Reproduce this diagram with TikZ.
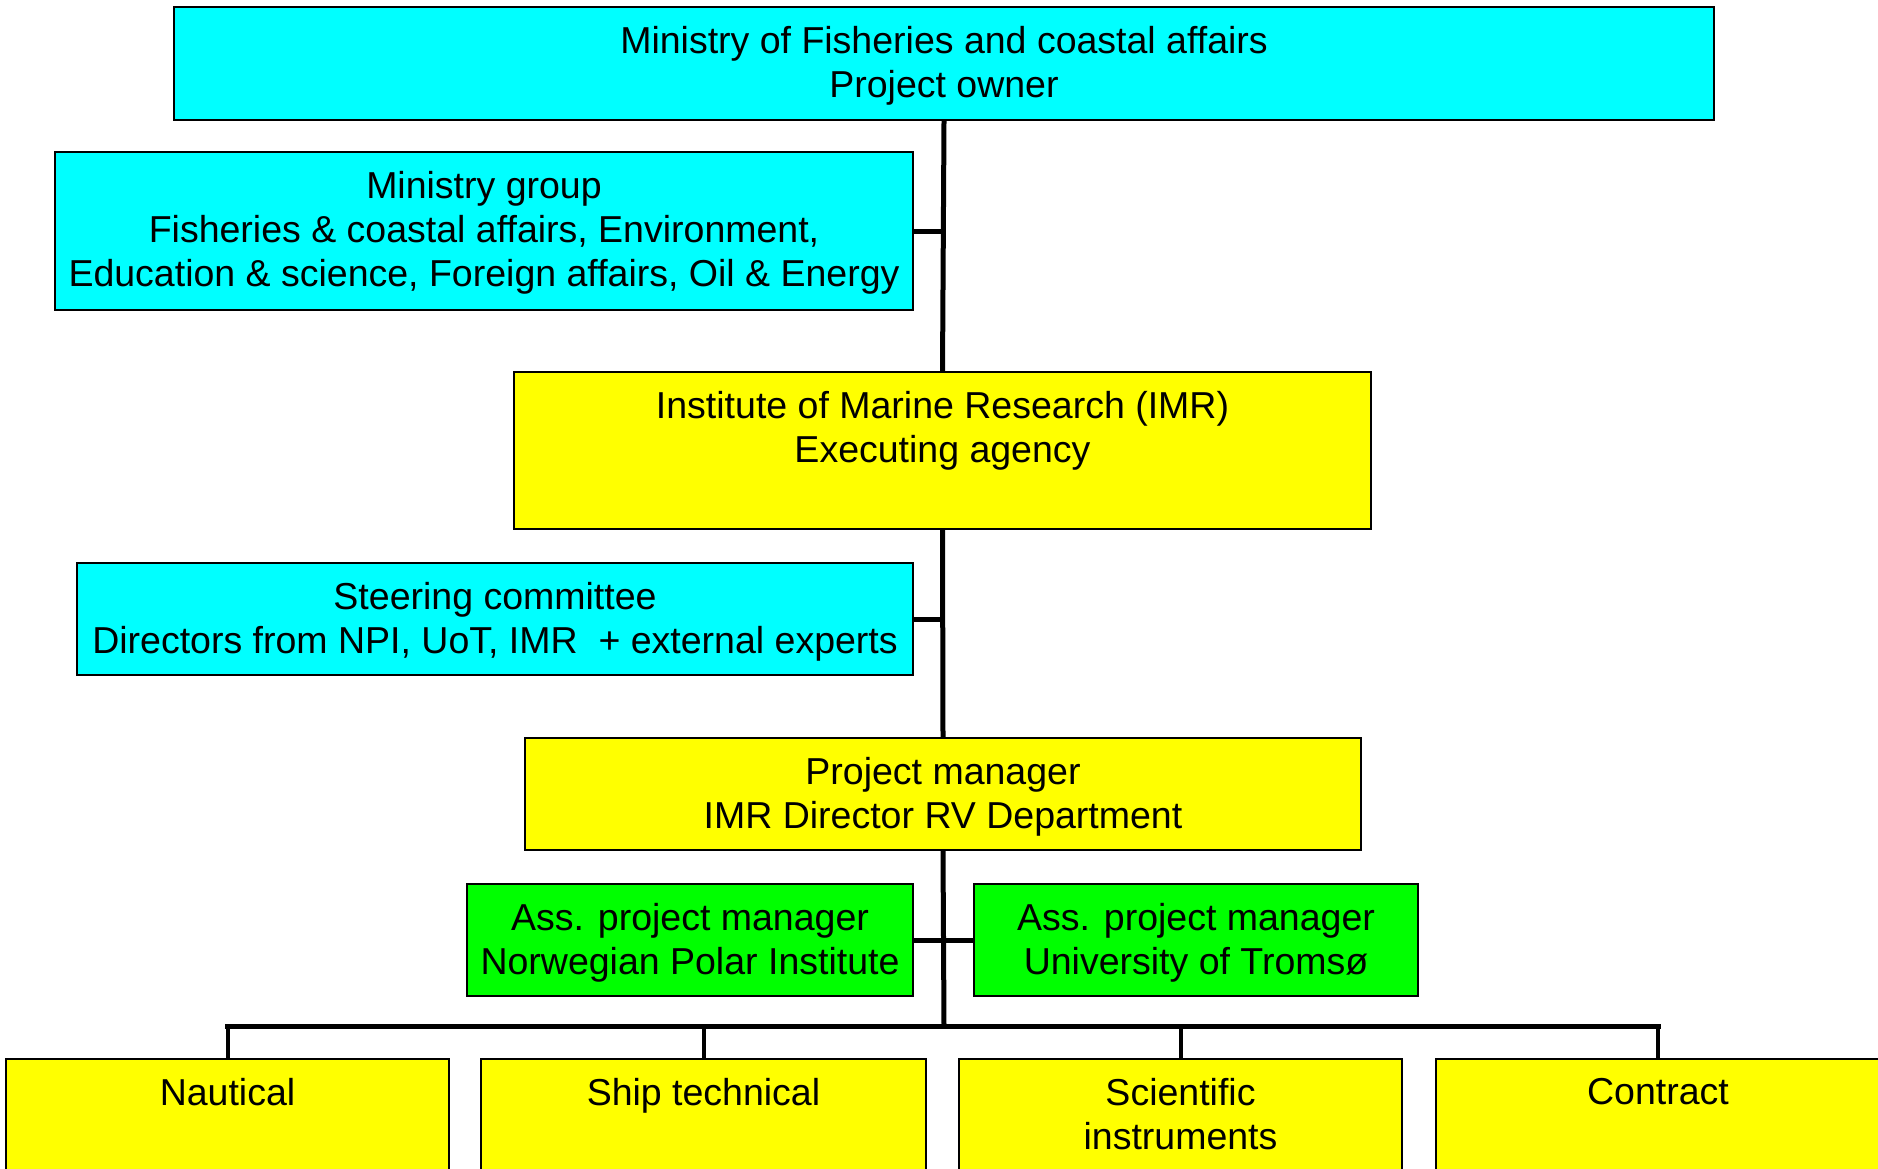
\documentclass[tikz,border=0pt]{standalone}
\usepackage{fontspec}
\setmainfont{Liberation Sans}
\definecolor{cyanc}{RGB}{0,255,255}
\definecolor{yellowc}{RGB}{255,255,0}
\definecolor{greenc}{RGB}{0,255,0}
\begin{document}
\begin{tikzpicture}[x=1pt,y=-1pt,
  box/.style={draw=black, line width=2.4pt, inner sep=0pt, rectangle},
  txt/.style={anchor=north, align=center, inner sep=0pt, font=\fontsize{37.5}{44}\selectfont},
  conn/.style={draw=black, line width=5pt}]
\fill[white] (0,0) rectangle (1878,1168);
\useasboundingbox (0,0) rectangle (1878,1168);
\clip (0,0) rectangle (1878,1168);
% boxes
\node[box, fill=cyanc, minimum width=1540pt, minimum height=113pt] (own) at (944,63.5) {};
\node[box, fill=cyanc, minimum width=858pt, minimum height=158pt] (mg) at (484,231) {};
\node[box, fill=yellowc, minimum width=857pt, minimum height=157pt] (imr) at (942.5,450.5) {};
\node[box, fill=cyanc, minimum width=836pt, minimum height=112pt] (sc) at (495,619) {};
\node[box, fill=yellowc, minimum width=836pt, minimum height=112pt] (pm) at (943,794) {};
\node[box, fill=greenc, minimum width=446pt, minimum height=112pt] (npi) at (690,940) {};
\node[box, fill=greenc, minimum width=444pt, minimum height=112pt] (uot) at (1196,940) {};
\node[box, fill=yellowc, minimum width=443pt, minimum height=150pt] (naut) at (227.5,1134) {};
\node[box, fill=yellowc, minimum width=445pt, minimum height=150pt] (ship) at (703.5,1134) {};
\node[box, fill=yellowc, minimum width=443pt, minimum height=150pt] (sci) at (1180.5,1134) {};
\node[box, fill=yellowc, minimum width=444pt, minimum height=150pt] (con) at (1658,1134) {};
% texts
\node[txt] (townt) at ([yshift=-20.5pt]own.north) {Ministry of Fisheries and coastal affairs\\Project owner};
\node[txt] (tmg) at ([yshift=-20.5pt]mg.north) {Ministry group\\Fisheries \& coastal affairs, Environment,\\Education \& science, Foreign affairs, Oil \& Energy};
\node[txt] (timr) at ([yshift=-20.5pt]imr.north) {Institute of Marine Research (IMR)\\Executing agency};
\node[txt] (tsc) at ([yshift=-20.5pt]sc.north) {Steering committee\\Directors from NPI, UoT, IMR~ + external experts};
\node[txt] (tpm) at ([yshift=-20.5pt]pm.north) {Project manager\\IMR Director RV Department};
\node[txt] (tnpi) at ([yshift=-20.5pt]npi.north) {Ass. project manager\\Norwegian Polar Institute};
\node[txt] (tuot) at ([yshift=-20.5pt]uot.north) {Ass. project manager\\University of Tromsø};
\node[txt] (tnaut) at ([yshift=-20.5pt]naut.north) {Nautical};
\node[txt] (tship) at ([yshift=-20.5pt]ship.north) {Ship technical};
\node[txt] (tsci) at ([yshift=-20.5pt]sci.north) {Scientific\\instruments};
\node[txt] (tcon) at ([yshift=-20.5pt]con.north) {Contract};
% connectors
\coordinate (bus) at (944,1026);
\draw[conn] (own.south) -- (imr.north);
\draw[conn] (imr.south) -- (pm.north);
\draw[conn] (pm.south) -- (bus);
\draw[conn] (mg.east) -- (mg.east -| own.south);
\draw[conn] (sc.east) -- (sc.east -| imr.south);
\draw[conn] (npi.east) -- (uot.west);
\draw[conn] ([xshift=-2.5pt]naut.north |- bus) -- ([xshift=2.5pt]con.north |- bus);
\draw[conn, line width=4pt] (naut.north |- bus) -- (naut.north);
\draw[conn, line width=4pt] (ship.north |- bus) -- (ship.north);
\draw[conn, line width=4pt] (sci.north |- bus) -- (sci.north);
\draw[conn, line width=4pt] (con.north |- bus) -- (con.north);
\end{tikzpicture}
\end{document}
